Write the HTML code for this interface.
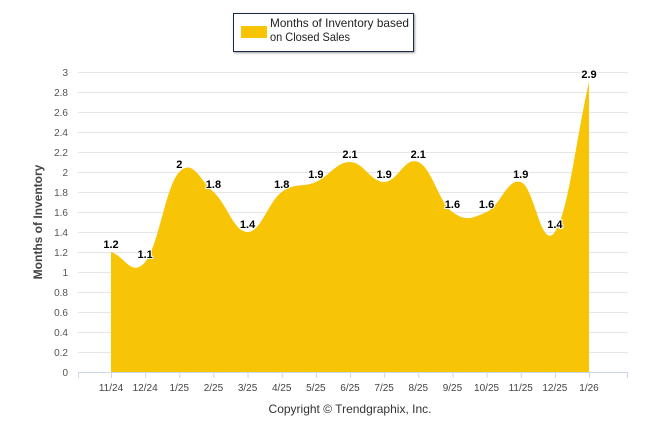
<!DOCTYPE html>
<html><head><meta charset="utf-8"><style>
body{margin:0;background:#fff;font-family:"Liberation Sans",Arial,sans-serif}
svg text{font-family:"Liberation Sans",Arial,sans-serif}
</style></head><body>
<svg id="c" width="646" height="434">
<defs><filter id="sh"><feDropShadow dx="1" dy="1" stdDeviation="1" flood-opacity="0.4"/></filter></defs>
<g>
<rect x="233.5" y="13.5" width="180" height="38" fill="#fff" stroke="#1c2a4a" stroke-width="1" filter="url(#sh)"/>
<rect x="241" y="26" width="26" height="12" fill="#f7c406"/>
<text x="270" y="27" font-size="12" fill="#222" textLength="139" lengthAdjust="spacingAndGlyphs">Months of Inventory based</text>
<text x="270" y="41" font-size="12" fill="#222" textLength="80" lengthAdjust="spacingAndGlyphs">on Closed Sales</text>
</g>
<g id="grid"></g><g id="area"></g><g id="axes"></g><g id="labels"></g>
<text transform="translate(42,222) rotate(-90)" text-anchor="middle" font-size="12" font-weight="bold" fill="#444">Months of Inventory</text>
<text x="350" y="413" text-anchor="middle" font-size="12" fill="#333">Copyright © Trendgraphix, Inc.</text>
</svg>
<script>
const categories=["11/24","12/24","1/25","2/25","3/25","4/25","5/25","6/25","7/25","8/25","9/25","10/25","11/25","12/25","1/26"];
const values=[1.2,1.1,2,1.8,1.4,1.8,1.9,2.1,1.9,2.1,1.6,1.6,1.9,1.4,2.9];
const yTicks=[0,0.2,0.4,0.6,0.8,1,1.2,1.4,1.6,1.8,2,2.2,2.4,2.6,2.8,3];
const NS="http://www.w3.org/2000/svg";
const x0=111,step=(589-111)/14,L=78,R=628;
const X=i=>x0+i*step, Y=v=>372-v*100;
function mk(t,a,p){const e=document.createElementNS(NS,t);for(const k in a)e.setAttribute(k,a[k]);document.getElementById(p).appendChild(e);return e;}
yTicks.forEach(t=>{
 const g=mk('line',{x1:L,x2:R,y1:Y(t)+0.5,y2:Y(t)+0.5,stroke:t===0?'#ccd6eb':'#e6e6e6'},'grid');
 
 
 const tx=mk('text',{x:68,y:Y(t)+4,'text-anchor':'end','font-size':10,fill:'#555'},'axes');tx.textContent=t;
 
 
});
mk('line',{x1:L+0.5,x2:L+0.5,y1:372,y2:378,stroke:'#ccd6eb'},'axes');
mk('line',{x1:R-0.5,x2:R-0.5,y1:372,y2:378,stroke:'#ccd6eb'},'axes');
categories.forEach((c,i)=>{
 mk('line',{x1:X(i)+0.5,x2:X(i)+0.5,y1:372,y2:378,stroke:'#ccd6eb'},'axes');
 const t=mk('text',{x:X(i),y:391,'text-anchor':'middle','font-size':10,fill:'#444'},'axes');t.textContent=c;
 
 
});
const pts=values.map((v,i)=>({x:X(i),y:Y(v)}));
const lc=[],rc=[];
pts.forEach((p,i)=>{
 const a=pts[Math.max(0,i-1)],b=pts[Math.min(pts.length-1,i+1)];
 const tx=(b.x-a.x)/(i===0||i===pts.length-1?1:2),ty=(b.y-a.y)/(i===0||i===pts.length-1?1:2);
 const k=0.4;
 lc[i]={x:p.x-tx*k,y:p.y-ty*k};rc[i]={x:p.x+tx*k,y:p.y+ty*k};
});
let d=`M${pts[0].x},372 L${pts[0].x},${pts[0].y}`;
for(let i=1;i<pts.length;i++)d+=` C${rc[i-1].x},${rc[i-1].y} ${lc[i].x},${lc[i].y} ${pts[i].x},${pts[i].y}`;
d+=` L${pts[pts.length-1].x},372 Z`;
const ar=mk('path',{d:d,fill:'#f7c406'},'area');


values.forEach((v,i)=>{
 const t=mk('text',{x:X(i),y:Y(v)-4,'text-anchor':'middle','font-size':11,'font-weight':'bold',fill:'#000',stroke:'#fff','stroke-width':2,'paint-order':'stroke'},'labels');
 t.textContent=v;
 
 
});
</script>
</body></html>
